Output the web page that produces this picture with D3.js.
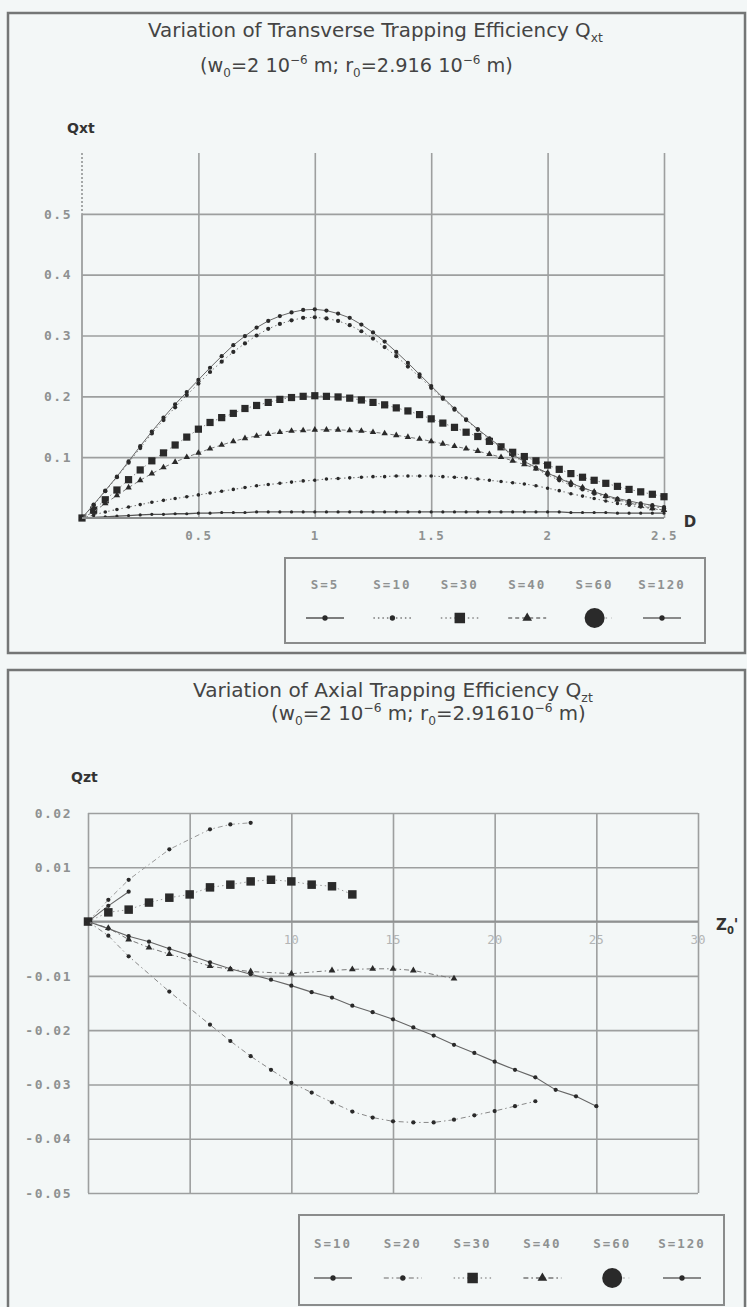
<!DOCTYPE html>
<html>
<head>
<meta charset="utf-8">
<script src="https://cdn.jsdelivr.net/npm/d3@7"></script>
<style>
  body{margin:0;background:#f3f7f7;}
  svg text{font-family:"DejaVu Sans",sans-serif;}
</style>
</head>
<body>
<svg id="chart" width="747" height="1307"></svg>
<script>
// ---- top chart data: Qxt against D ----
var dTop = [0,0.05,0.1,0.15,0.2,0.25,0.3,0.35,0.4,0.45,
            0.5,0.55,0.6,0.65,0.7,0.75,0.8,0.85,0.9,0.95,
            1,1.05,1.1,1.15,1.2,1.25,1.3,1.35,1.4,1.45,
            1.5,1.55,1.6,1.65,1.7,1.75,1.8,1.85,1.9,1.95,
            2,2.05,2.1,2.15,2.2,2.25,2.3,2.35,2.4,2.45,2.5]
var qxtS5 = [0,0.001,0.002,0.003,0.004,0.005,0.006,0.006,0.007,0.007,
             0.008,0.008,0.009,0.009,0.009,0.010,0.010,0.010,0.010,0.010,
             0.010,0.010,0.010,0.010,0.010,0.010,0.010,0.010,0.010,0.010,
             0.010,0.010,0.010,0.010,0.010,0.010,0.010,0.010,0.010,0.010,
             0.010,0.010,0.009,0.009,0.009,0.009,0.008,0.008,0.008,0.008,0.008]
var qxtS10 = [0,0.005,0.010,0.014,0.018,0.022,0.026,0.029,0.032,0.035,
              0.038,0.041,0.044,0.047,0.050,0.053,0.055,0.057,0.059,0.061,
              0.062,0.064,0.065,0.066,0.067,0.068,0.068,0.069,0.069,0.069,
              0.069,0.068,0.067,0.066,0.064,0.062,0.060,0.058,0.056,0.053,
              0.049,0.045,0.040,0.036,0.032,0.028,0.024,0.021,0.018,0.015,0.013]
var qxtS30 = [0,0.013,0.030,0.046,0.063,0.079,0.094,0.107,0.120,0.133,
              0.146,0.157,0.165,0.172,0.180,0.185,0.190,0.195,0.198,0.200,
              0.201,0.200,0.199,0.197,0.194,0.190,0.186,0.181,0.176,0.170,
              0.163,0.156,0.149,0.141,0.134,0.126,0.117,0.108,0.101,0.094,
              0.087,0.080,0.073,0.067,0.062,0.057,0.052,0.047,0.043,0.039,0.035]
var qxtS40 = [0,0.010,0.024,0.037,0.050,0.062,0.073,0.083,0.092,0.100,
              0.107,0.114,0.120,0.126,0.131,0.135,0.138,0.141,0.143,0.144,
              0.145,0.145,0.145,0.144,0.143,0.141,0.139,0.136,0.133,0.130,
              0.126,0.122,0.118,0.114,0.110,0.105,0.100,0.094,0.088,0.081,
              0.074,0.066,0.058,0.050,0.043,0.036,0.030,0.025,0.020,0.016,0.013]
var qxtS60 = [0,0.021,0.044,0.067,0.091,0.115,0.139,0.161,0.182,0.202,
              0.221,0.240,0.257,0.273,0.287,0.300,0.311,0.319,0.325,0.329,
              0.330,0.328,0.324,0.317,0.307,0.295,0.281,0.266,0.249,0.232,
              0.214,0.196,0.178,0.161,0.145,0.130,0.116,0.103,0.091,0.081,
              0.071,0.062,0.054,0.047,0.040,0.035,0.030,0.026,0.022,0.019,0.016]
var qxtS120 = [0,0.022,0.045,0.068,0.093,0.118,0.142,0.165,0.187,0.207,
               0.227,0.247,0.266,0.284,0.299,0.313,0.324,0.332,0.338,0.342,
               0.343,0.341,0.336,0.329,0.318,0.305,0.290,0.273,0.255,0.236,
               0.217,0.198,0.180,0.162,0.146,0.131,0.117,0.104,0.093,0.083,
               0.074,0.065,0.057,0.050,0.043,0.037,0.032,0.028,0.024,0.021,0.018]
var topLegend = ["S=5","S=10","S=30","S=40","S=60","S=120"]
var topXTicks = [0.5,1,1.5,2,2.5]
var topYTicks = [0.1,0.2,0.3,0.4,0.5]

// ---- bottom chart data: Qzt against Z0' ----
var zS10 = [0,1,2]
var qztS10 = [0,0.0029,0.0055]
var zS20 = [0,1,2,4,6,7,8]
var qztS20 = [0,0.004,0.0077,0.0133,0.017,0.0179,0.0182]
var zS30 = [0,1,2,3,4,5,6,7,8,9,10,11,12,13]
var qztS30 = [0,0.0017,0.0022,0.0035,0.0044,0.005,0.0063,0.0068,0.0074,0.0077,0.0074,0.0068,0.0065,0.005]
var zS40 = [0,1,2,3,4,6,7,8,10,12,13,14,15,16,18]
var qztS40 = [0,-0.0012,-0.0033,-0.0048,-0.006,-0.0082,-0.0088,-0.0092,-0.0096,-0.009,-0.0088,-0.0087,-0.0087,-0.009,-0.0105]
var zS60 = [0,1,2,4,6,7,8,9,10,11,12,13,14,15,16,17,18,19,20,21,22]
var qztS60 = [0,-0.0026,-0.0064,-0.0129,-0.019,-0.022,-0.0248,-0.0273,-0.0297,-0.0315,-0.0333,-0.035,-0.0361,-0.0368,-0.037,-0.037,-0.0365,-0.0357,-0.0349,-0.034,-0.0331]
var zS120 = [0,1,2,3,4,5,6,7,8,9,10,11,12,13,14,15,16,17,18,19,20,21,22,23,24,25]
var qztS120 = [0,-0.0013,-0.0027,-0.0037,-0.005,-0.0062,-0.0075,-0.0087,-0.0097,-0.0107,-0.0118,-0.013,-0.014,-0.0155,-0.0167,-0.018,-0.0195,-0.021,-0.0227,-0.0242,-0.0258,-0.0273,-0.0287,-0.031,-0.0322,-0.034]
var bottomLegend = ["S=10","S=20","S=30","S=40","S=60","S=120"]
var bottomXTicks = [0,5,10,15,20,25,30]
var bottomXLabels = [10,15,20,25,30]
var bottomYTicks = [0.02,0.01,0,-0.01,-0.02,-0.03,-0.04,-0.05]

var colorGrid = "#9d9f9f"
var colorFrame = "#747676"
var colorMark = "#2a2a2a"
var colorTick = "#8e9191"
var monoFont = "'DejaVu Sans Mono',monospace"

var svg = d3.select("#chart")
svg.append("rect").attr("width",747).attr("height",1307).attr("fill","#f3f7f7")
svg.append("defs").append("filter").attr("id","soft")
   .append("feGaussianBlur").attr("stdDeviation",0.5)

// panel frames
svg.append("rect").attr("x",8).attr("y",13).attr("width",737).attr("height",640)
   .attr("fill","none").attr("stroke",colorFrame).attr("stroke-width",2.5)
svg.append("rect").attr("x",8).attr("y",670).attr("width",737).attr("height",660)
   .attr("fill","none").attr("stroke",colorFrame).attr("stroke-width",2.5)

// text with sub / superscripts, fitted to a width
function richText(x, y, parts, size, width, color){
  var t = svg.append("text").attr("x",x).attr("y",y).attr("font-size",size).attr("fill",color)
  var shift = 0
  parts.forEach(function(p){
    var target = p[1]=="sub" ? size*0.25 : (p[1]=="sup" ? -size*0.4 : 0)
    t.append("tspan").attr("dy",target-shift).attr("font-size",p[1] ? size*0.62 : size).text(p[0])
    shift = target
  })
  if (width){
    var w = t.node().getComputedTextLength()
    var k = width/w
    t.attr("font-size",size*k)
    t.selectAll("tspan").each(function(){
      var s = d3.select(this)
      s.attr("font-size",+s.attr("font-size")*k).attr("dy",+s.attr("dy")*k)
    })
  }
  return t
}

function styleAxis(g, fontSize, spacing){
  g.select(".domain").remove()
  g.selectAll(".tick line").attr("stroke",colorGrid).attr("stroke-width",1.6)
  g.selectAll(".tick text").attr("fill",colorTick).style("font-family",monoFont)
   .style("font-weight","bold").attr("font-size",fontSize).style("letter-spacing",spacing+"px")
}

function drawSeries(g, xs, ys, x, y, st){
  var pts = xs.map(function(v,i){ return [x(v), y(ys[i])] })
  g.append("path").attr("d",d3.line()(pts)).attr("fill","none")
   .attr("stroke",st.lineColor).attr("stroke-width",st.lw)
   .attr("stroke-dasharray",st.dash)
  g.selectAll(null).data(pts).enter().append("path")
   .attr("transform",function(d){ return "translate("+d[0]+","+d[1]+")" })
   .attr("d",d3.symbol().type(st.sym).size(st.size))
   .attr("fill",colorMark)
}

function drawLegend(names, styles, x0, x1, yText, ySym, bigSizes){
  var lx = d3.scalePoint().domain(names).range([x0,x1])
  names.forEach(function(n,i){
    var cx = lx(n), st = styles[i]
    svg.append("text").attr("x",cx).attr("y",yText).attr("text-anchor","middle")
       .attr("fill",colorTick).style("font-family",monoFont).attr("font-size",12.5)
       .style("letter-spacing","2px").style("font-weight","bold").text(n)
    var g = svg.append("g").attr("filter","url(#soft)")
    if (st.big){
      g.append("line").attr("x1",cx).attr("x2",cx+17).attr("y1",ySym).attr("y2",ySym)
       .attr("stroke","#888").attr("stroke-width",1.2).attr("stroke-dasharray","1.5,4")
      g.append("circle").attr("cx",cx).attr("cy",ySym).attr("r",10).attr("fill",colorMark)
    } else {
      g.append("line").attr("x1",cx-19).attr("x2",cx+19).attr("y1",ySym).attr("y2",ySym)
       .attr("stroke",st.lineColor).attr("stroke-width",st.lw+0.4).attr("stroke-dasharray",st.dash)
      g.append("path").attr("transform","translate("+cx+","+ySym+")")
       .attr("d",d3.symbol().type(st.sym).size(bigSizes[i])).attr("fill",colorMark)
    }
  })
}

// ================= TOP CHART =================
richText(148, 37, [["Variation of Transverse Trapping Efficiency Q"],["xt","sub"]], 15, 455, "#444")
richText(200, 72, [["(w"],["0","sub"],["=2 10"],["−6","sup"],[" m; r"],["0","sub"],["=2.916 10"],["−6","sup"],[" m)"]], 14, 313, "#444")
svg.append("text").attr("x",67).attr("y",133).attr("font-size",14).attr("font-weight","bold")
   .attr("fill","#333").text("Qxt")

var xT = d3.scaleLinear().domain([0,2.5]).range([82,664])
var yT = d3.scaleLinear().domain([0,0.6]).range([518,153])

var gx = svg.append("g").attr("transform","translate(0,"+yT(0)+")")
  .call(d3.axisBottom(xT).tickValues(topXTicks).tickSize(-(yT(0)-yT(0.6))).tickPadding(13)
        .tickFormat(function(d){ return String(d) }))
styleAxis(gx, 12.5, 1.5)
var gy = svg.append("g").attr("transform","translate("+xT(0)+",0)")
  .call(d3.axisLeft(yT).tickValues(topYTicks).tickSize(-(xT(2.5)-xT(0))).tickPadding(10)
        .tickFormat(d3.format(".1f")))
styleAxis(gy, 13, 1.5)

svg.append("line").attr("x1",xT(0)).attr("x2",xT(0)).attr("y1",yT(0.5)).attr("y2",yT(0))
   .attr("stroke",colorGrid).attr("stroke-width",1.8)
svg.append("line").attr("x1",xT(0)).attr("x2",xT(0)).attr("y1",yT(0.6)).attr("y2",yT(0.5))
   .attr("stroke",colorGrid).attr("stroke-width",1.8).attr("stroke-dasharray","2,2")

var topStyles = [
  {dash:null, lw:1.3, lineColor:"#555", sym:d3.symbolCircle, size:8},
  {dash:"1.5,3", lw:1.1, lineColor:"#777", sym:d3.symbolCircle, size:10},
  {dash:"1.5,3", lw:1, lineColor:"#888", sym:d3.symbolSquare, size:52},
  {dash:"4,3", lw:1, lineColor:"#777", sym:d3.symbolTriangle, size:18},
  {dash:"1.5,3", lw:1, lineColor:"#777", sym:d3.symbolCircle, size:14, big:true},
  {dash:null, lw:1, lineColor:"#666", sym:d3.symbolCircle, size:14}
]
var topSeries = [qxtS5, qxtS10, qxtS30, qxtS40, qxtS60, qxtS120]
var gTop = svg.append("g").attr("filter","url(#soft)")
topSeries.forEach(function(s,i){ drawSeries(gTop, dTop, s, xT, yT, topStyles[i]) })

svg.append("line").attr("x1",xT(0)).attr("x2",xT(2.5)).attr("y1",yT(0)).attr("y2",yT(0))
   .attr("stroke","#8a8c8c").attr("stroke-width",2.2)
svg.append("text").attr("x",690).attr("y",527).attr("text-anchor","middle")
   .attr("font-size",15).attr("font-weight","bold").attr("fill","#333").text("D")

svg.append("rect").attr("x",285).attr("y",558).attr("width",420).attr("height",85)
   .attr("fill","none").attr("stroke","#8a8c8c").attr("stroke-width",2)
drawLegend(topLegend, topStyles, 325, 662, 589, 618, [22,22,110,40,0,22])

// ================= BOTTOM CHART =================
richText(193, 697, [["Variation of Axial Trapping Efficiency Q"],["zt","sub"]], 15, 400, "#444")
richText(271, 720, [["(w"],["0","sub"],["=2 10"],["−6","sup"],[" m; r"],["0","sub"],["=2.91610"],["−6","sup"],[" m)"]], 14, 315, "#444")
svg.append("text").attr("x",71).attr("y",782).attr("font-size",14).attr("font-weight","bold")
   .attr("fill","#333").text("Qzt")

var xB = d3.scaleLinear().domain([0,30]).range([88,698])
var yB = d3.scaleLinear().domain([-0.05,0.02]).range([1193,813])

var gbx = svg.append("g").attr("transform","translate(0,"+yB(-0.05)+")")
  .call(d3.axisBottom(xB).tickValues(bottomXTicks).tickSize(-(yB(-0.05)-yB(0.02))).tickFormat(""))
styleAxis(gbx, 12, 0)
var gby = svg.append("g").attr("transform","translate("+xB(0)+",0)")
  .call(d3.axisLeft(yB).tickValues(bottomYTicks).tickSize(-(xB(30)-xB(0))).tickPadding(16)
        .tickFormat(function(d){ return d==0 ? "" : d3.format(".2f")(d).replace("−","-") }))
styleAxis(gby, 13, 1.5)
svg.append("line").attr("x1",xB(0)).attr("x2",xB(30)).attr("y1",yB(0)).attr("y2",yB(0))
   .attr("stroke","#8f9191").attr("stroke-width",2)

svg.selectAll(null).data(bottomXLabels).enter().append("text")
   .attr("x",function(d){ return xB(d) }).attr("y",yB(0)+22).attr("text-anchor","middle")
   .attr("fill","#b3b5b5").style("font-family",monoFont).attr("font-size",12.5).text(function(d){ return d })

var bottomStyles = [
  {dash:null, lw:1.1, lineColor:"#666", sym:d3.symbolCircle, size:14},
  {dash:"5,3,1.5,3", lw:1, lineColor:"#999", sym:d3.symbolCircle, size:14},
  {dash:"1.5,3", lw:1, lineColor:"#999", sym:d3.symbolSquare, size:72},
  {dash:"5,3,1.5,3", lw:1, lineColor:"#777", sym:d3.symbolTriangle, size:20},
  {dash:"5,3,1.5,3", lw:1, lineColor:"#888", sym:d3.symbolCircle, size:14, big:true},
  {dash:null, lw:1.1, lineColor:"#666", sym:d3.symbolCircle, size:14}
]
var bottomX = [zS10, zS20, zS30, zS40, zS60, zS120]
var bottomSeries = [qztS10, qztS20, qztS30, qztS40, qztS60, qztS120]
var gBot = svg.append("g").attr("filter","url(#soft)")
bottomSeries.forEach(function(s,i){ drawSeries(gBot, bottomX[i], s, xB, yB, bottomStyles[i]) })

var zl = svg.append("text").attr("x",716).attr("y",930).attr("font-size",15)
   .attr("font-weight","bold").attr("fill","#333")
zl.append("tspan").text("Z")
zl.append("tspan").attr("font-size",10).attr("dy",4).text("0")
zl.append("tspan").attr("dy",-4).text("'")

svg.append("rect").attr("x",299).attr("y",1215).attr("width",425).attr("height",90)
   .attr("fill","none").attr("stroke","#8a8c8c").attr("stroke-width",2)
drawLegend(bottomLegend, bottomStyles, 333, 682, 1248, 1278, [22,22,110,40,0,22])
</script>
</body>
</html>
